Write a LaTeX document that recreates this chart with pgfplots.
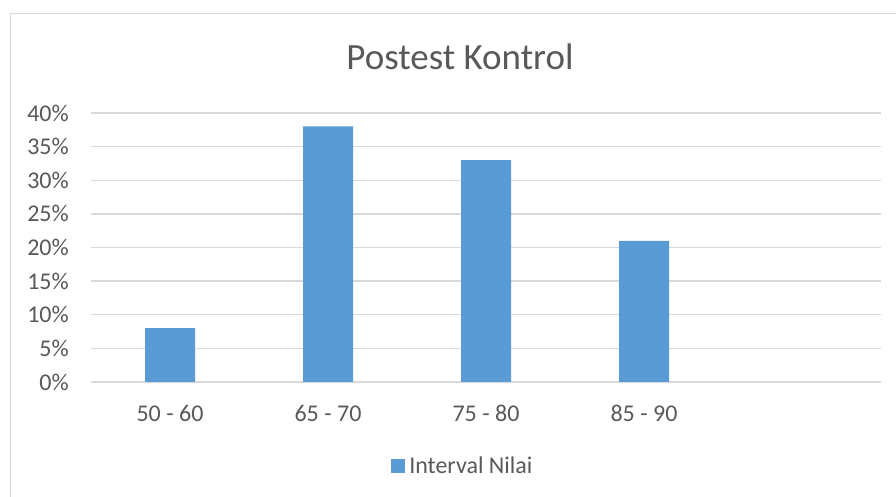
\documentclass[border=0pt]{standalone}
\usepackage{pgfplots}
\pgfplotsset{compat=1.18}
\usepackage{fontspec}
\setmainfont{Carlito}
\definecolor{barblue}{HTML}{5B9BD5}
\definecolor{txt}{HTML}{595959}
\definecolor{gridc}{HTML}{D9D9D9}
\begin{document}
\begin{tikzpicture}[x=1pt,y=1pt]
\useasboundingbox (0,0) rectangle (896,497);
\begin{scope}
\clip (0,0) rectangle (896,497);
\fill[white] (0,0) rectangle (896,497);
\draw[color=gridc, line width=1.5pt] (10.5,-10) -- (10.5,483.5) -- (910,483.5);
\end{scope}
\node[text=txt, font=\fontsize{37}{42}\selectfont, inner sep=0pt] at (460,440) {Postest Kontrol};
\begin{axis}[
  at={(91pt,115pt)}, anchor=south west,
  scale only axis, width=790pt, height=269pt,
  xmin=-0.5, xmax=4.5, ymin=0, ymax=40,
  axis line style={draw=none},
  ymajorgrids, grid style={color=gridc, line width=1.4pt},
  major tick length=0pt,
  xtick={0,1,2,3},
  xticklabels={50 - 60, 65 - 70, 75 - 80, 85 - 90},
  ytick={0,5,10,15,20,25,30,35,40},
  yticklabels={0\%,5\%,10\%,15\%,20\%,25\%,30\%,35\%,40\%},
  tick label style={text=txt, font=\fontsize{24}{28}\selectfont},
  yticklabel style={inner sep=0pt, xshift=-22pt},
  xticklabel style={inner sep=0pt, yshift=-23pt},
  legend style={at={(0.472,-0.312)}, anchor=center, draw=none, fill=none,
    font=\fontsize{24}{28}\selectfont, text=txt,
    nodes={inner sep=4.5pt}},
  legend image code/.code={\fill[barblue] (0pt,-7pt) rectangle (14pt,7pt);},
]
\addplot[ybar, bar width=50pt, fill=barblue, draw=none] coordinates {(0,8) (1,38) (2,33) (3,21)};
\addlegendentry{Interval Nilai}
\end{axis}
\end{tikzpicture}
\end{document}
